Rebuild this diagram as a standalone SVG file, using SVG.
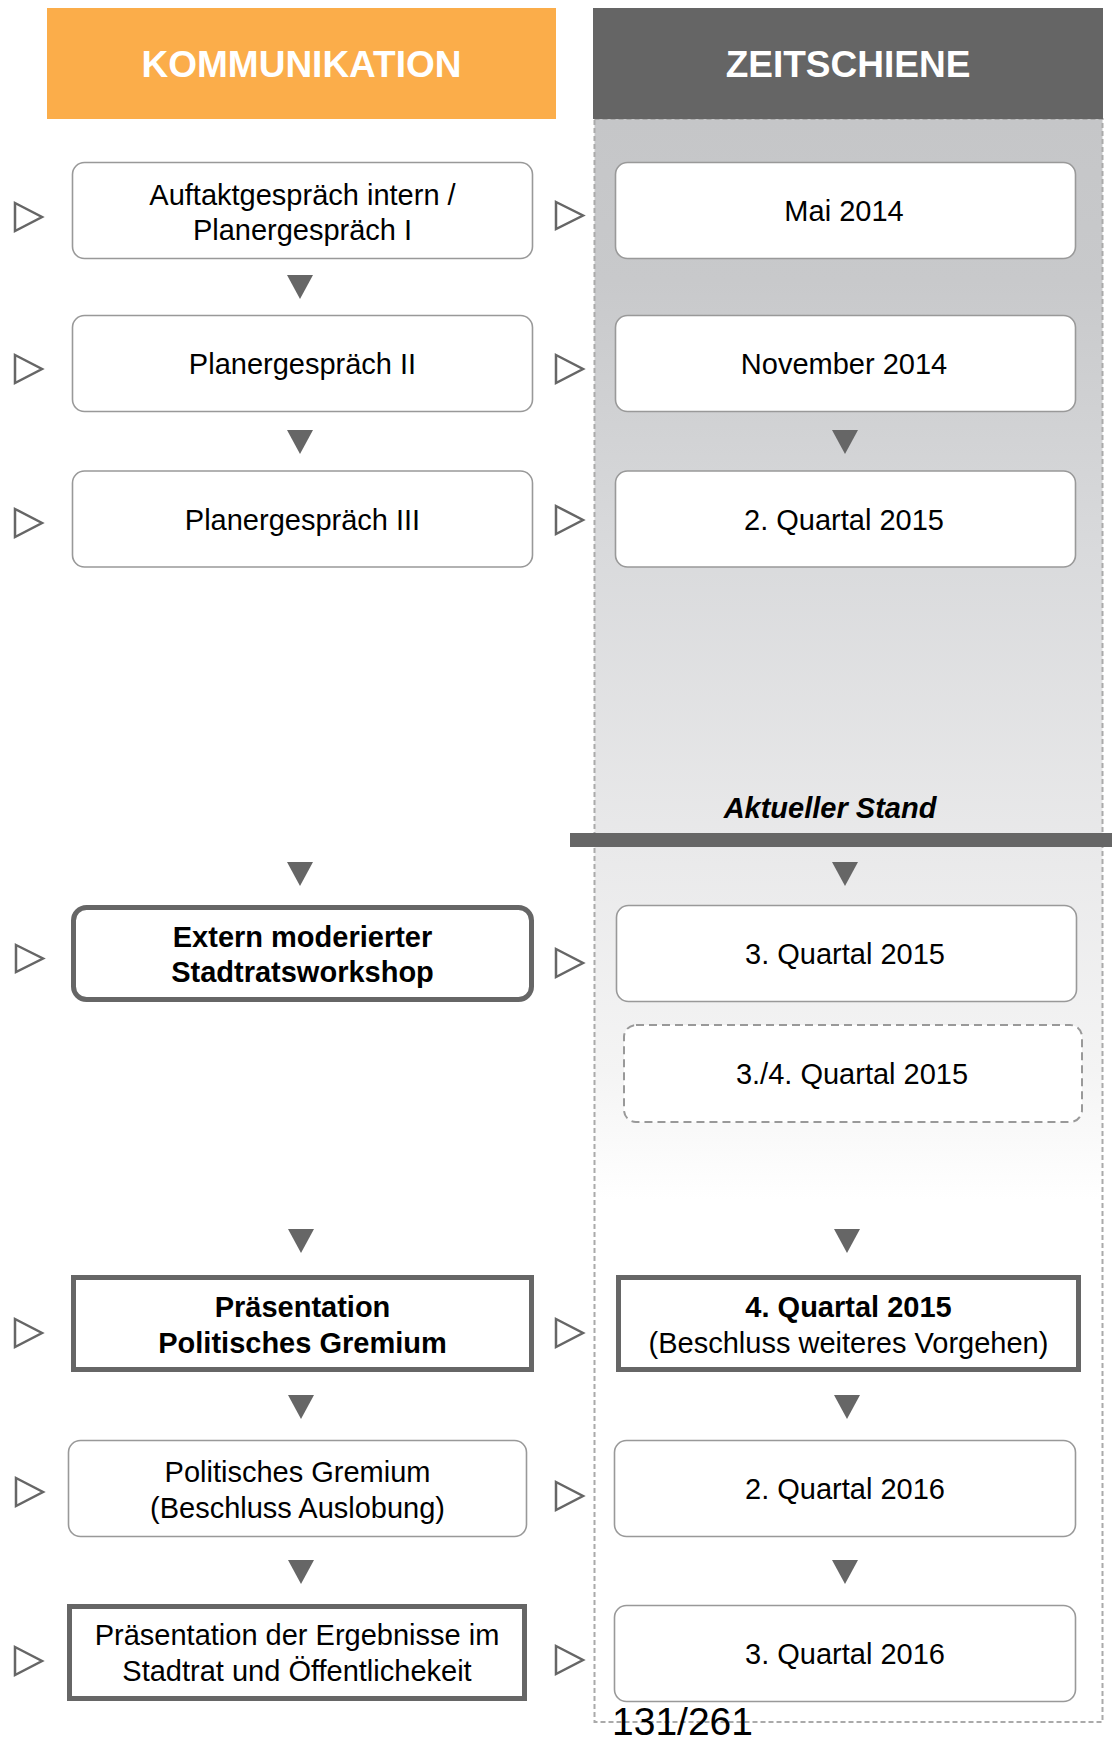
<svg xmlns="http://www.w3.org/2000/svg" width="1112" height="1739" viewBox="0 0 1112 1739">
<style>
text{font-family:"Liberation Sans",Arial,sans-serif;fill:#000;text-anchor:middle}
.t{font-size:29px}
.b{font-size:29px;font-weight:bold}
.hd{font-size:37px;font-weight:bold;fill:#fff}
.box{fill:#fff;stroke:#999;stroke-width:1.6}
.bold{fill:#fff;stroke:#666;stroke-width:5}
.dash{fill:#fff;stroke:#999;stroke-width:2;stroke-dasharray:8 5}
.out{fill:#fff;stroke:#666;stroke-width:2.5;stroke-linejoin:miter}
.dn{fill:#666}
</style>
<defs>
<linearGradient id="colg" gradientUnits="userSpaceOnUse" x1="0" y1="119" x2="0" y2="1200">
<stop offset="0" stop-color="#c5c6c8"/>
<stop offset="0.15" stop-color="#c8c9cb"/>
<stop offset="0.4" stop-color="#d9dadc"/>
<stop offset="0.67" stop-color="#e9e9ea"/>
<stop offset="0.88" stop-color="#f4f4f4"/>
<stop offset="1" stop-color="#ffffff"/>
</linearGradient>
</defs>
<rect width="1112" height="1739" fill="#fff"/>
<g id="timeline-column">
<rect x="594.5" y="119" width="508" height="1603" fill="url(#colg)" stroke="#aaa" stroke-width="2" stroke-dasharray="5 3"/>
</g>
<g id="header-kommunikation">
<rect x="47" y="8" width="509" height="111" fill="#fbad4a"/>
<text class="hd" x="301.5" y="77">KOMMUNIKATION</text>
</g>
<g id="header-zeitschiene">
<rect x="593" y="8" width="510" height="111" fill="#656565"/>
<text class="hd" x="848" y="77">ZEITSCHIENE</text>
</g>
<g id="aktueller-stand">
<text x="830" y="818" style="font-size:29px;font-weight:bold;font-style:italic">Aktueller Stand</text>
<rect x="570" y="833" width="542" height="14" fill="#666"/>
</g>
<g id="n1"><rect class="box" x="72.5" y="162.5" width="460" height="96" rx="12"/><text class="t" x="302.5" y="204.5">Auftaktgespräch intern /</text><text class="t" x="302.5" y="240">Planergespräch I</text></g>
<g id="n2"><rect class="box" x="72.5" y="315.5" width="460" height="96" rx="12"/><text class="t" x="302.5" y="374">Planergespräch II</text></g>
<g id="n3"><rect class="box" x="72.5" y="471" width="460" height="96" rx="12"/><text class="t" x="302.5" y="529.5">Planergespräch III</text></g>
<g id="n4"><rect class="bold" x="73.5" y="907.5" width="458" height="92" rx="13"/><text class="b" x="302.5" y="947">Extern moderierter</text><text class="b" x="302.5" y="982">Stadtratsworkshop</text></g>
<g id="n5"><rect class="bold" x="73.5" y="1277.5" width="458" height="92"/><text class="b" x="302.5" y="1317">Präsentation</text><text class="b" x="302.5" y="1353">Politisches Gremium</text></g>
<g id="n6"><rect class="box" x="68.5" y="1440.5" width="458" height="96" rx="12"/><text class="t" x="297.5" y="1482">Politisches Gremium</text><text class="t" x="297.5" y="1518">(Beschluss Auslobung)</text></g>
<g id="n7"><rect class="bold" x="69.5" y="1606.5" width="455" height="92"/><text class="t" x="297" y="1645">Präsentation der Ergebnisse im</text><text class="t" x="297" y="1681">Stadtrat und Öffentlichekeit</text></g>
<g id="r1"><rect class="box" x="615.5" y="162.5" width="460" height="96" rx="12"/><text class="t" x="844" y="221">Mai 2014</text></g>
<g id="r2"><rect class="box" x="615.5" y="315.5" width="460" height="96" rx="12"/><text class="t" x="844" y="374">November 2014</text></g>
<g id="r3"><rect class="box" x="615.5" y="471" width="460" height="96" rx="12"/><text class="t" x="844" y="530">2. Quartal 2015</text></g>
<g id="r4"><rect class="box" x="616.5" y="905.5" width="460" height="96" rx="12"/><text class="t" x="845" y="964">3. Quartal 2015</text></g>
<g id="r5"><rect class="dash" x="624" y="1025" width="458" height="97" rx="12"/><text class="t" x="852" y="1084">3./4. Quartal 2015</text></g>
<g id="r6"><rect class="bold" x="618.5" y="1277.5" width="460" height="92"/><text class="b" x="848.5" y="1317">4. Quartal 2015</text><text class="t" x="848.5" y="1353">(Beschluss weiteres Vorgehen)</text></g>
<g id="r7"><rect class="box" x="614.5" y="1440.5" width="461" height="96" rx="12"/><text class="t" x="845" y="1499">2. Quartal 2016</text></g>
<g id="r8"><rect class="box" x="614.5" y="1605.5" width="461" height="96" rx="12"/><text class="t" x="845" y="1664">3. Quartal 2016</text></g>
<g id="connectors">
<polygon class="out" points="15,203 42,217 15,231"/>
<polygon class="out" points="556,202 583,215.5 556,229"/>
<polygon class="out" points="15,355 42,369 15,383"/>
<polygon class="out" points="556,355 583,369 556,383"/>
<polygon class="out" points="15,509 42,523 15,537"/>
<polygon class="out" points="556,506 583,520 556,534"/>
<polygon class="out" points="16,945 43,958.5 16,972"/>
<polygon class="out" points="556,949 583,963 556,977"/>
<polygon class="out" points="15,1319 42,1333 15,1347"/>
<polygon class="out" points="556,1319 583,1333 556,1347"/>
<polygon class="out" points="16,1478 43,1492 16,1506"/>
<polygon class="out" points="556,1482 583,1496 556,1510"/>
<polygon class="out" points="15,1647 42,1661 15,1675"/>
<polygon class="out" points="556,1646 583,1660 556,1674"/>
<polygon class="dn" points="287,275 313,275 300,299"/>
<polygon class="dn" points="287,430 313,430 300,454"/>
<polygon class="dn" points="287,862 313,862 300,886"/>
<polygon class="dn" points="288,1229 314,1229 301,1253"/>
<polygon class="dn" points="288,1395 314,1395 301,1419"/>
<polygon class="dn" points="288,1560 314,1560 301,1584"/>
<polygon class="dn" points="832,430 858,430 845,454"/>
<polygon class="dn" points="832,862 858,862 845,886"/>
<polygon class="dn" points="834,1229 860,1229 847,1253"/>
<polygon class="dn" points="834,1395 860,1395 847,1419"/>
<polygon class="dn" points="832,1560 858,1560 845,1584"/>
</g>
<text x="612" y="1735" style="font-size:39px;text-anchor:start">131/261</text>
</svg>
